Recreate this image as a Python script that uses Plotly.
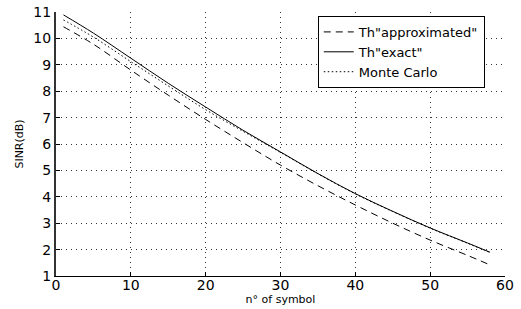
import plotly.graph_objects as go

x_symbol = [1, 5, 10, 15, 20, 25, 30, 35, 40, 45, 50, 55, 58]
th_approx = [10.44, 9.78, 8.80, 7.85, 6.93, 6.05, 5.20, 4.42, 3.69, 3.00, 2.36, 1.78, 1.42]
th_exact = [10.89, 10.20, 9.25, 8.30, 7.40, 6.52, 5.70, 4.88, 4.12, 3.45, 2.82, 2.25, 1.90]
monte_carlo = [10.70, 10.05, 9.12, 8.20, 7.30, 6.48, 5.68, 4.87, 4.11, 3.44, 2.81, 2.24, 1.89]

x_ticks = [0, 10, 20, 30, 40, 50, 60]
y_ticks = [1, 2, 3, 4, 5, 6, 7, 8, 9, 10, 11]

FONT = "DejaVu Sans"

fig = go.Figure()
fig.add_trace(go.Scatter(x=x_symbol, y=th_approx, mode="lines", name='Th"approximated"',
                         line=dict(color="black", width=1, dash="7px,5px", shape="spline")))
fig.add_trace(go.Scatter(x=x_symbol, y=th_exact, mode="lines", name='Th"exact"',
                         line=dict(color="black", width=1, shape="spline")))
fig.add_trace(go.Scatter(x=x_symbol, y=monte_carlo, mode="lines", name="Monte Carlo",
                         line=dict(color="black", width=1, dash="1.5px,2.5px", shape="spline")))

fig.update_layout(
    width=521, height=309,
    margin=dict(l=56, r=16, t=12, b=33, autoexpand=False),
    paper_bgcolor="white", plot_bgcolor="white",
    font=dict(family=FONT, color="black"),
    showlegend=True,
    legend=dict(x=0.583, y=0.985, xanchor="left", yanchor="top",
                bordercolor="black", borderwidth=1, bgcolor="white",
                font=dict(family=FONT, size=13, color="black"),
                tracegroupgap=0),
)
fig.update_xaxes(
    range=[0, 60], tickvals=x_ticks, ticktext=[str(v) for v in x_ticks],
    showgrid=True, gridcolor="#333333", griddash="1px,4px", gridwidth=1,
    zeroline=False, showline=True, linecolor="black", linewidth=1,
    ticks="inside", ticklen=4, tickcolor="black", automargin=False,
    ticklabelstandoff=-4, ticklabeloverflow="allow",
    tickfont=dict(family=FONT, size=14, color="black"),
    title=dict(text="n° of symbol", font=dict(family=FONT, size=11, color="black"), standoff=0),
)
fig.update_yaxes(
    range=[1, 11], tickvals=y_ticks, ticktext=[str(v) for v in y_ticks],
    showgrid=True, gridcolor="#333333", griddash="1px,4px", gridwidth=1,
    zeroline=False, showline=True, linecolor="#333333", linewidth=2,
    ticks="inside", ticklen=4, tickcolor="black", automargin=False,
    ticklabeloverflow="allow",
    tickfont=dict(family=FONT, size=14, color="black"),
    title=dict(text="SINR(dB)", font=dict(family=FONT, size=11, color="black"), standoff=8),
)

fig.write_html("out.html", config={"displayModeBar": False},
               post_script="document.body.style.margin='0';")
